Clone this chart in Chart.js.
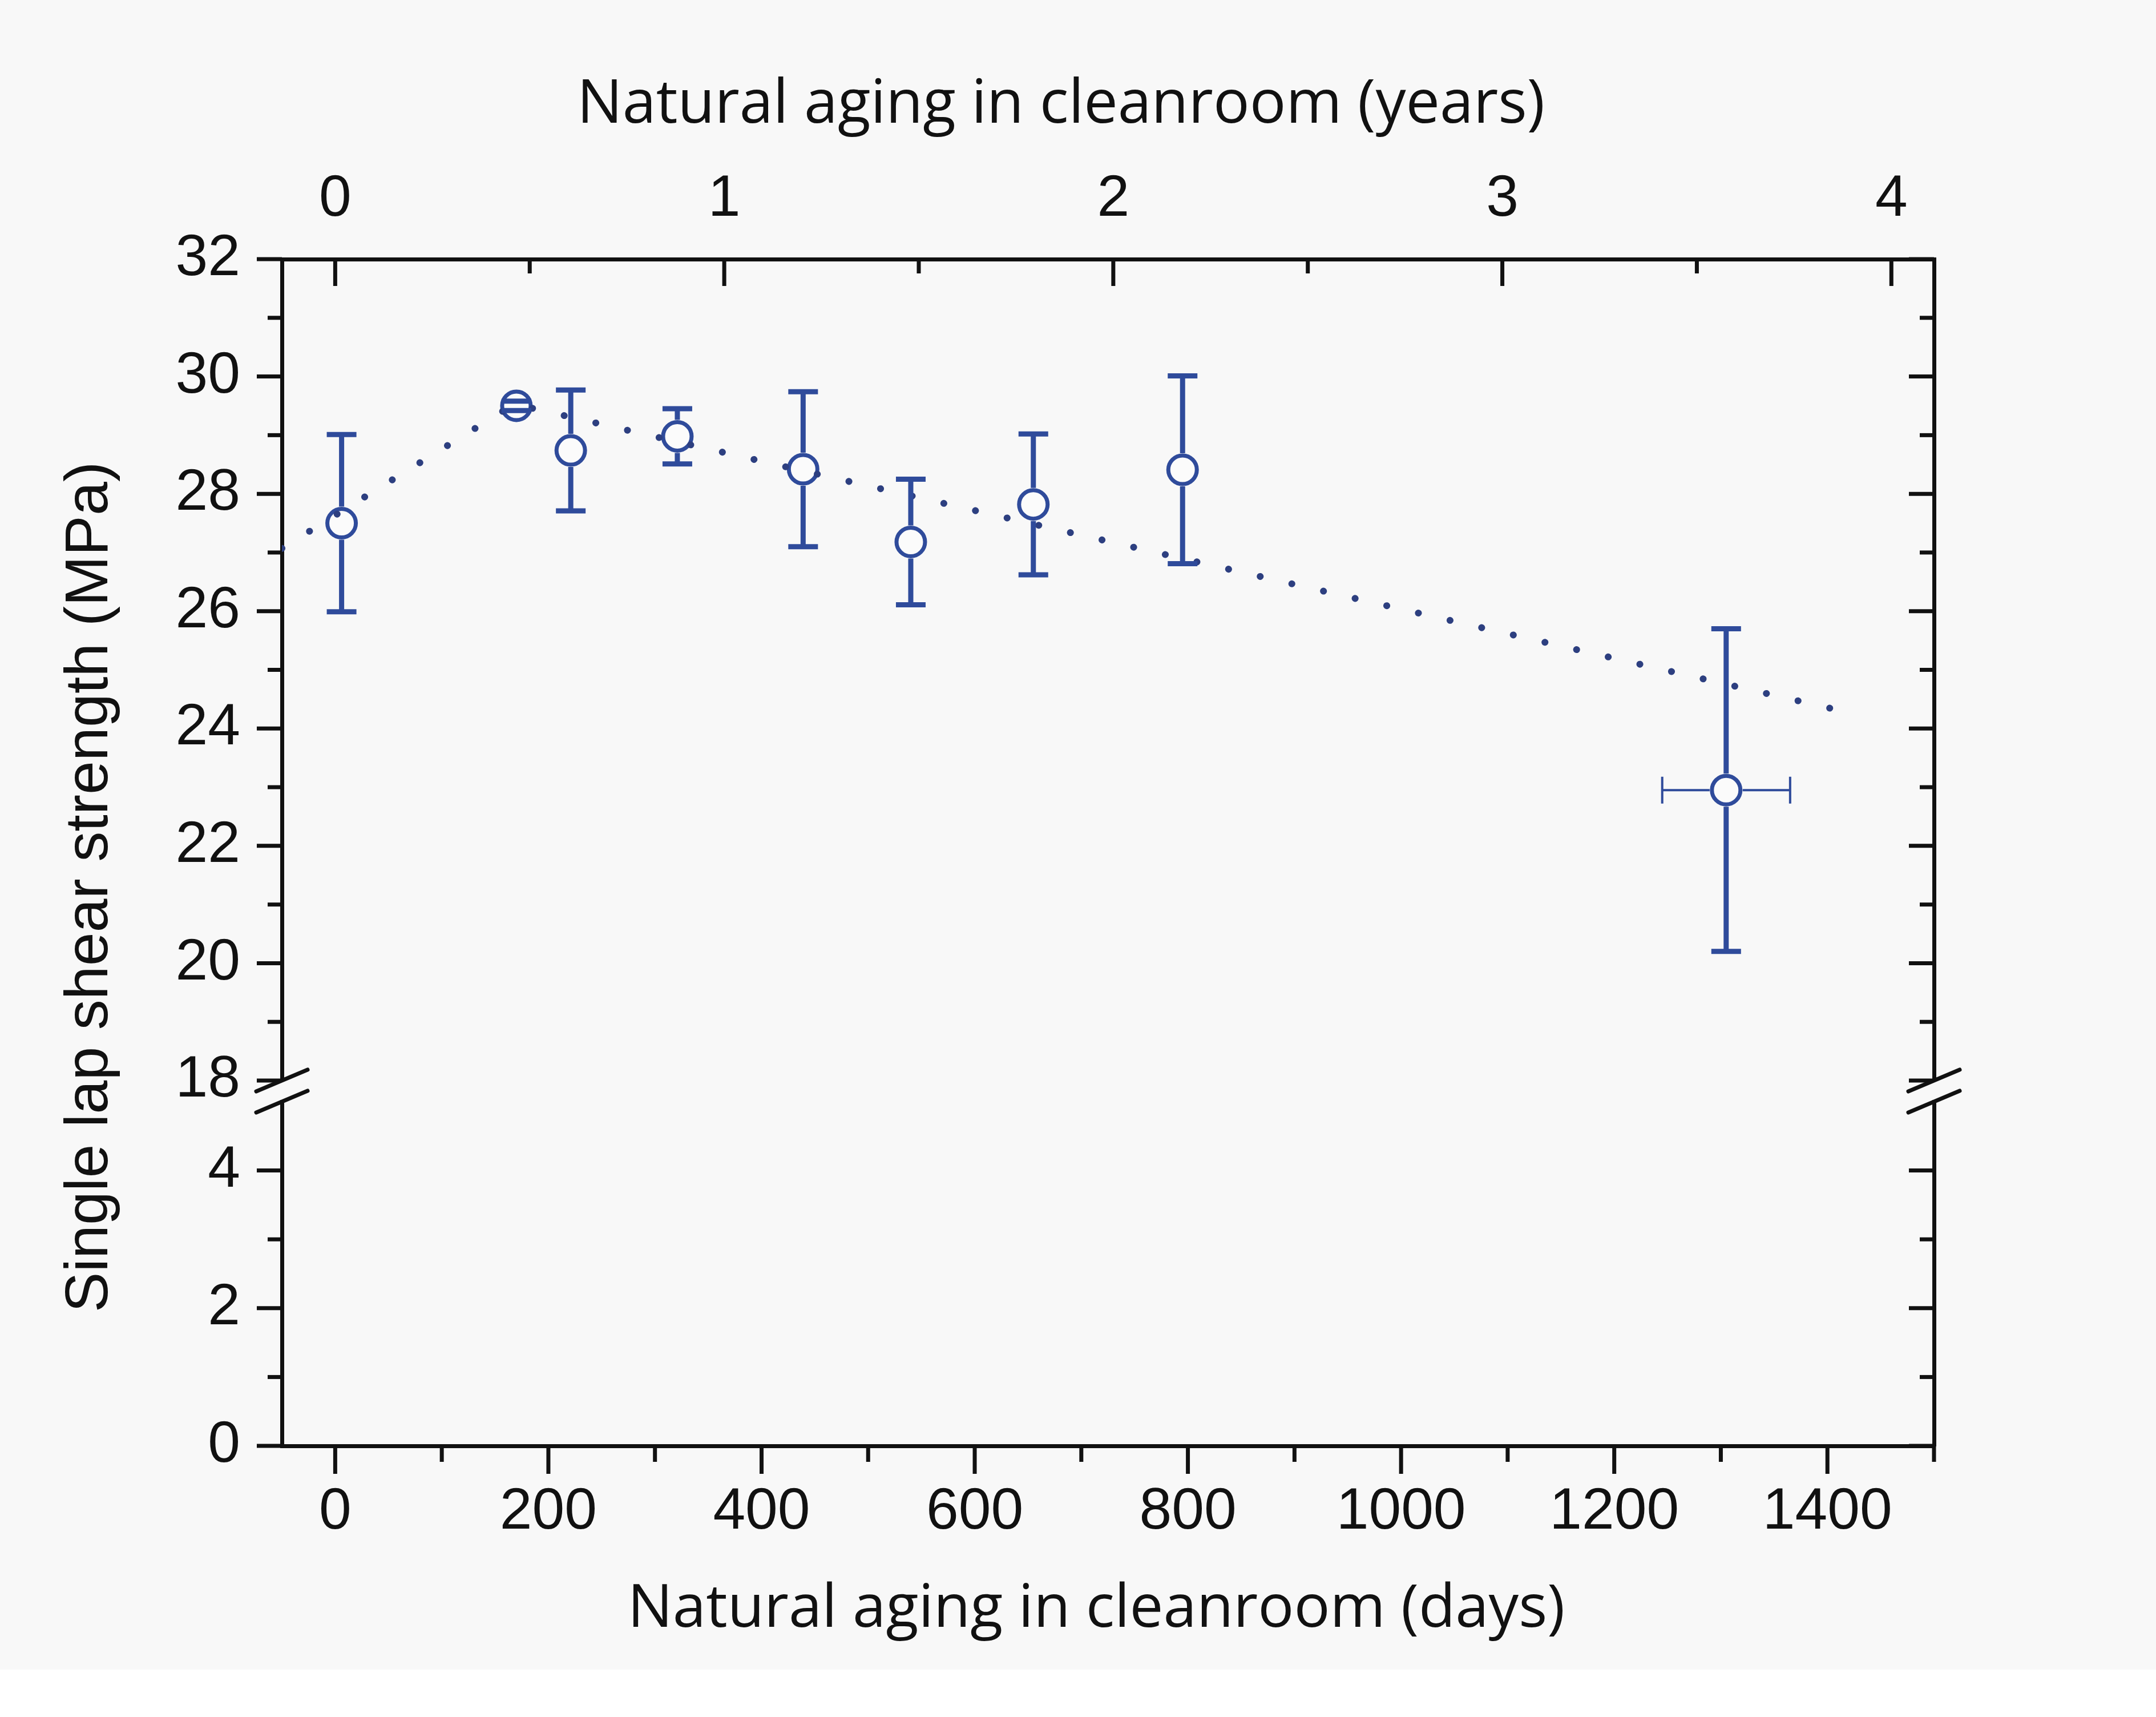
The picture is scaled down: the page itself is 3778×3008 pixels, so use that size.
<!DOCTYPE html>
<html>
<head>
<meta charset="utf-8">
<title>Single lap shear strength vs natural aging</title>
<script src="https://cdn.jsdelivr.net/npm/chart.js@4.4.1/dist/chart.umd.min.js"></script>
<style>
    html, body { margin: 0; padding: 0; background: #ffffff; }
    #wrap { width: 3778px; height: 3008px; }
</style>
</head>
<body>
<div id="wrap"><canvas id="shear-chart"></canvas></div>
<script>
// measured samples: days in cleanroom vs single lap shear strength (MPa)
const agingDays = [6, 170, 221, 321, 439, 540, 655, 795, 1305];
const shearStrength = [27.5, 29.5, 28.74, 28.98, 28.42, 27.18, 27.82, 28.41, 22.95];
const strengthError = [1.51, 0.08, 1.03, 0.47, 1.32, 1.07, 1.2, 1.6, 2.75];
const daysError = [0, 0, 0, 0, 0, 0, 0, 0, 60];

// dotted trend line
const trendDays = [-50, 168, 1404];
const trendStrength = [27.07, 29.53, 24.34];

// ticks
const dayTicks = [0, 200, 400, 600, 800, 1000, 1200, 1400];
const dayMinorTicks = [100, 300, 500, 700, 900, 1100, 1300, 1500];
const yearTicks = [0, 1, 2, 3, 4];
const yearMinorTicks = [0.5, 1.5, 2.5, 3.5];
const upperTicks = [18, 20, 22, 24, 26, 28, 30, 32];
const upperMinorTicks = [19, 21, 23, 25, 27, 29, 31];
const lowerTicks = [0, 2, 4];
const lowerMinorTicks = [1, 3];

const DAYS_PER_YEAR = 365;
const DAY_MIN = -50;
const DAY_MAX = 1500;

const BLUE = '#2f4b9b';
const DOT_BLUE = '#2d3f80';
const INK = '#111111';
const ARIAL = '"Liberation Sans", Arial, sans-serif';
const SEGOE = '"Open Sans", "Noto Sans", sans-serif';

const canvasBackground = {
    id: 'canvasBackground',
    beforeDraw: (chart, args, options) => {
        const { ctx } = chart
        ctx.save()
        ctx.fillStyle = '#ffffff'
        ctx.fillRect(0, 0, chart.width, chart.height)
        ctx.fillStyle = options.color
        ctx.fillRect(0, 0, chart.width, options.height)
        ctx.restore()
    }
}

// Origin style tick marks: left/bottom point outwards, top/right point inwards
const tickMarks = {
    id: 'tickMarks',
    afterDraw: (chart, args, options) => {
        const { ctx, scales } = chart
        ctx.save()
        ctx.strokeStyle = options.color
        ctx.lineWidth = options.width
        const vertical = (scale, values, edge, len) => {
            values.forEach(v => {
                const y = scale.getPixelForValue(v)
                ctx.beginPath()
                ctx.moveTo(edge, y)
                ctx.lineTo(edge - len, y)
                ctx.stroke()
            })
        }
        const horizontal = (scale, values, edge, len) => {
            values.forEach(v => {
                const x = scale.getPixelForValue(v)
                ctx.beginPath()
                ctx.moveTo(x, edge)
                ctx.lineTo(x, edge + len)
                ctx.stroke()
            })
        }
        const L = options.major, S = options.minor
        vertical(scales.yUp, upperTicks, scales.yUp.right, L)
        vertical(scales.yUp, upperMinorTicks, scales.yUp.right, S)
        vertical(scales.yLow, lowerTicks, scales.yLow.right, L)
        vertical(scales.yLow, lowerMinorTicks, scales.yLow.right, S)
        vertical(scales.yUpR, upperTicks, scales.yUpR.left, L)
        vertical(scales.yUpR, upperMinorTicks, scales.yUpR.left, S)
        vertical(scales.yLowR, lowerTicks, scales.yLowR.left, L)
        vertical(scales.yLowR, lowerMinorTicks, scales.yLowR.left, S)
        horizontal(scales.x, dayTicks, scales.x.top, L + 5)
        horizontal(scales.x, dayMinorTicks, scales.x.top, S + 3)
        horizontal(scales.x2, yearTicks, scales.x2.bottom, L + 3)
        horizontal(scales.x2, yearMinorTicks, scales.x2.bottom, S)
        ctx.restore()
    }
}

// the // marks where the y axis is broken
const axisBreak = {
    id: 'axisBreak',
    afterDraw: (chart, args, options) => {
        const { ctx, chartArea, scales } = chart
        const ys = [scales.yUp.bottom, scales.yLow.top]
        ctx.save()
        ctx.strokeStyle = options.color
        ctx.lineWidth = options.width
        ctx.lineCap = 'round';
        [chartArea.left, chartArea.right].forEach(x => {
            ys.forEach(y => {
                ctx.beginPath()
                ctx.moveTo(x - options.dx, y + options.dy)
                ctx.lineTo(x + options.dx, y - options.dy)
                ctx.stroke()
            })
        })
        ctx.restore()
    }
}

const errorBars = {
    id: 'errorBars',
    afterDatasetsDraw: (chart, args, options) => {
        const { ctx } = chart
        const xs = chart.scales.x
        const ys = chart.scales.yUp
        const r = options.gap
        ctx.save()
        ctx.strokeStyle = options.color
        agingDays.forEach((d, i) => {
            const cx = xs.getPixelForValue(d)
            const cy = ys.getPixelForValue(shearStrength[i])
            const top = ys.getPixelForValue(shearStrength[i] + strengthError[i])
            const bot = ys.getPixelForValue(shearStrength[i] - strengthError[i])
            ctx.lineWidth = options.width
            ctx.beginPath()
            if (cy - top > r) {
                ctx.moveTo(cx, top)
                ctx.lineTo(cx, cy - r)
                ctx.moveTo(cx, cy + r)
                ctx.lineTo(cx, bot)
            }
            ctx.moveTo(cx - options.cap / 2, top)
            ctx.lineTo(cx + options.cap / 2, top)
            ctx.moveTo(cx - options.cap / 2, bot)
            ctx.lineTo(cx + options.cap / 2, bot)
            ctx.stroke()
            if (daysError[i] > 0) {
                const left = xs.getPixelForValue(d - daysError[i])
                const right = xs.getPixelForValue(d + daysError[i])
                ctx.lineWidth = options.thinWidth
                ctx.beginPath()
                ctx.moveTo(left, cy)
                ctx.lineTo(cx - r, cy)
                ctx.moveTo(cx + r, cy)
                ctx.lineTo(right, cy)
                ctx.moveTo(left, cy - options.thinCap / 2)
                ctx.lineTo(left, cy + options.thinCap / 2)
                ctx.moveTo(right, cy - options.thinCap / 2)
                ctx.lineTo(right, cy + options.thinCap / 2)
                ctx.stroke()
            }
        })
        ctx.restore()
    }
}

// axis titles are placed by hand: the y title spans both stacked axes and
// the x titles sit a little left of the plot centre in the original
const axisTitles = {
    id: 'axisTitles',
    afterDraw: (chart, args, options) => {
        const { ctx } = chart
        options.items.forEach(item => {
            ctx.save()
            ctx.translate(item.x, item.y)
            if (item.vertical) ctx.rotate(-Math.PI / 2)
            ctx.font = item.font
            ctx.fillStyle = INK
            ctx.textAlign = 'center'
            ctx.textBaseline = 'alphabetic'
            ctx.fillText(item.text, 0, 0)
            ctx.restore()
        })
    }
}

const tickFont = { family: ARIAL, size: 102 }
const plainNumber = value => String(value)
const hidden = { display: false }

new Chart(document.getElementById('shear-chart'), {
    type: 'scatter',
    data: {
        datasets: [
            {
                type: 'line',
                label: 'Trend',
                data: trendDays.map((d, i) => ({ x: d, y: trendStrength[i] })),
                xAxisID: 'x',
                yAxisID: 'yUp',
                borderColor: DOT_BLUE,
                borderWidth: 12,
                borderDash: [0.1, 56.8],
                borderCapStyle: 'round',
                pointRadius: 0,
                fill: false,
                tension: 0,
                order: 1
            },
            {
                label: 'Single lap shear strength',
                data: agingDays.map((d, i) => ({ x: d, y: shearStrength[i] })),
                xAxisID: 'x',
                yAxisID: 'yUp',
                pointStyle: 'circle',
                pointRadius: 25,
                pointBorderWidth: 7,
                pointBackgroundColor: '#fbfbfb',
                pointBorderColor: BLUE,
                order: 2
            }
        ]
    },
    options: {
        responsive: true,
        maintainAspectRatio: false,
        devicePixelRatio: 1,
        animation: false,
        events: [],
        layout: { padding: 0 },
        scales: {
            x: {
                type: 'linear',
                position: 'bottom',
                min: DAY_MIN,
                max: DAY_MAX,
                afterBuildTicks: scale => { scale.ticks = dayTicks.map(v => ({ value: v })) },
                afterFit: scale => { scale.height = 475 },
                ticks: { font: tickFont, color: INK, padding: 7, maxRotation: 0, callback: plainNumber },
                grid: { display: false, tickLength: 49 },
                border: { color: INK, width: 7 }
            },
            x2: {
                type: 'linear',
                position: 'top',
                min: DAY_MIN / DAYS_PER_YEAR,
                max: DAY_MAX / DAYS_PER_YEAR,
                afterBuildTicks: scale => { scale.ticks = yearTicks.map(v => ({ value: v })) },
                afterFit: scale => { scale.height = 454 },
                ticks: { font: tickFont, color: INK, padding: 13, maxRotation: 0, callback: plainNumber },
                grid: { display: false, tickLength: 30 },
                border: { color: INK, width: 7 }
            },
            yUp: {
                type: 'linear',
                position: 'left',
                stack: 'left',
                stackWeight: 1439,
                weight: 3,
                min: 18,
                max: 32,
                afterBuildTicks: scale => { scale.ticks = upperTicks.map(v => ({ value: v })) },
                afterFit: scale => { scale.width = 494 },
                ticks: { font: tickFont, color: INK, padding: 29, callback: plainNumber },
                grid: { display: false, tickLength: 44 },
                border: { color: INK, width: 7 }
            },
            yGap: {
                type: 'linear',
                position: 'left',
                stack: 'left',
                stackWeight: 37,
                weight: 2,
                min: 0,
                max: 1,
                afterFit: scale => { scale.width = 494 },
                ticks: hidden,
                grid: { display: false, drawTicks: false },
                border: hidden
            },
            yLow: {
                type: 'linear',
                position: 'left',
                stack: 'left',
                stackWeight: 603,
                weight: 1,
                min: 0,
                max: 5,
                afterBuildTicks: scale => { scale.ticks = lowerTicks.map(v => ({ value: v })) },
                afterFit: scale => { scale.width = 494 },
                ticks: { font: tickFont, color: INK, padding: 29, callback: plainNumber },
                grid: { display: false, tickLength: 44 },
                border: { color: INK, width: 7 }
            },
            yUpR: {
                type: 'linear',
                position: 'right',
                stack: 'right',
                stackWeight: 1439,
                weight: 1,
                min: 18,
                max: 32,
                afterFit: scale => { scale.width = 389 },
                ticks: hidden,
                grid: { display: false, drawTicks: false },
                border: { color: INK, width: 7 }
            },
            yGapR: {
                type: 'linear',
                position: 'right',
                stack: 'right',
                stackWeight: 37,
                weight: 2,
                min: 0,
                max: 1,
                afterFit: scale => { scale.width = 389 },
                ticks: hidden,
                grid: { display: false, drawTicks: false },
                border: hidden
            },
            yLowR: {
                type: 'linear',
                position: 'right',
                stack: 'right',
                stackWeight: 603,
                weight: 3,
                min: 0,
                max: 5,
                afterFit: scale => { scale.width = 389 },
                ticks: hidden,
                grid: { display: false, drawTicks: false },
                border: { color: INK, width: 7 }
            }
        },
        plugins: {
            legend: { display: false },
            tooltip: { enabled: false },
            canvasBackground: { color: '#f8f8f8', height: 2925 },
            tickMarks: { color: INK, width: 7, major: 44, minor: 25 },
            axisBreak: { color: INK, width: 7, dx: 45, dy: 19 },
            errorBars: { color: BLUE, width: 9, cap: 52, gap: 29, thinWidth: 4, thinCap: 47 },
            axisTitles: {
                items: [
                    { text: 'Single lap shear strength (MPa)', x: 188, y: 1554, vertical: true, font: '106px ' + ARIAL },
                    { text: 'Natural aging in cleanroom (years)', x: 1859, y: 215, font: '106px ' + SEGOE },
                    { text: 'Natural aging in cleanroom (days)', x: 1921, y: 2850, font: '105px ' + SEGOE }
                ]
            }
        }
    },
    plugins: [canvasBackground, errorBars, tickMarks, axisBreak, axisTitles]
})
</script>
</body>
</html>
